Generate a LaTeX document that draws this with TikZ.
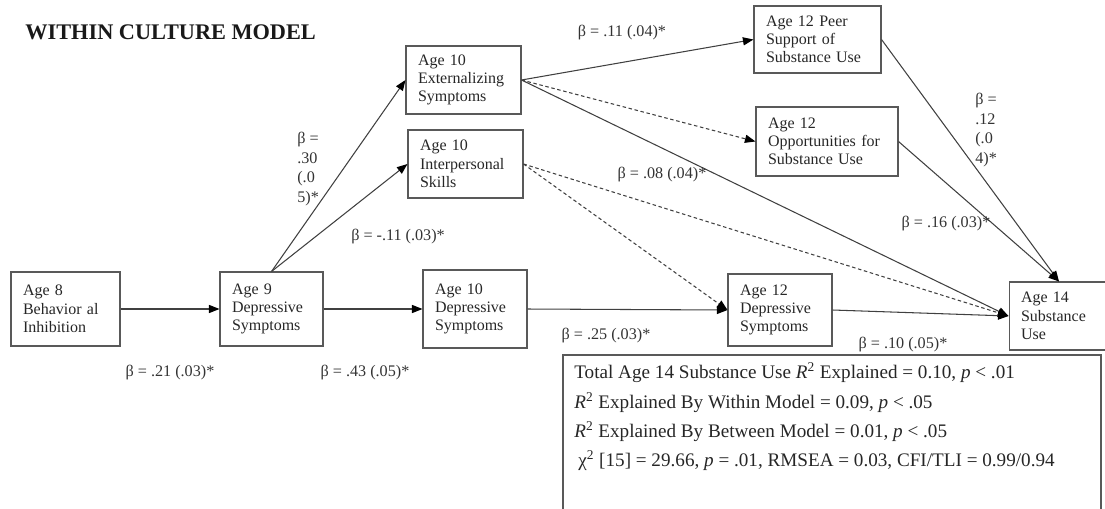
\documentclass[tikz,border=0pt]{standalone}
\usepackage{fontspec}
\setmainfont{Liberation Serif}
\usepackage{xcolor}
\definecolor{linegray}{rgb}{0.25,0.25,0.25}
\definecolor{boxgray}{rgb}{0.35,0.35,0.35}
\usepackage{tikz}
\usetikzlibrary{arrows.meta}

\begin{document}
\begin{tikzpicture}[x=0.02cm, y=-0.02cm,
    box/.style={draw=boxgray, line width=0.6pt, align=left, inner xsep=0.24cm, inner ysep=0pt, font=\fontsize{9.1}{10.4}\selectfont, text=black!85},
    link/.style={draw=linegray, line width=0.6pt, -{Triangle[length=6pt,width=4.6pt,color=black]}},
    dashlink/.style={link, dash pattern=on 2pt off 1.5pt},
    coef/.style={font=\fontsize{9.2}{11.3}\selectfont, text=black!80, inner sep=0pt}]
            \useasboundingbox (0,0) rectangle (1105,508);
            \clip (0,0) rectangle (1105,508);

            % Title
            \node[anchor=west, inner sep=0pt, font=\fontsize{12.7}{14}\selectfont\bfseries, text=black!90] (title) at (25,32) {WITHIN CULTURE MODEL};

            % Variables
            \node[box, minimum width=2.18cm, minimum height=1.48cm, text width=1.70cm] (age8) at (65.5,309) {Age 8\\Behavior al\\Inhibition};
            \node[box, minimum width=2.06cm, minimum height=1.48cm, text width=1.58cm] (age9) at (271.5,309) {Age 9\\Depressive\\Symptoms};
            \node[box, minimum width=2.08cm, minimum height=1.56cm, text width=1.60cm] (dep10) at (475,309) {Age 10\\Depressive\\Symptoms};
            \node[box, minimum width=2.30cm, minimum height=1.36cm, text width=1.82cm] (ext10) at (463.5,80) {Age 10\\Externalizing\\Symptoms};
            \node[box, minimum width=2.30cm, minimum height=1.36cm, text width=1.82cm] (inter10) at (465.5,164) {Age 10\\Interpersonal\\Skills};
            \node[box, minimum width=2.54cm, minimum height=1.34cm, text width=2.06cm] (peer12) at (817.5,39.5) {Age 12 Peer\\Support of\\Substance Use};
            \node[box, minimum width=2.84cm, minimum height=1.38cm, text width=2.36cm] (opp12) at (827,141.5) {Age 12\\Opportunities for\\Substance Use};
            \node[box, minimum width=2.08cm, minimum height=1.44cm, text width=1.60cm] (dep12) at (780,310) {Age 12\\Depressive\\Symptoms};
            \node[box, minimum width=2.60cm, minimum height=1.36cm, text width=2.12cm] (use14) at (1074,316) {Age 14\\Substance\\Use};

            % Paths
            \draw[link] (age8) -- (age9);
            \draw[link] (age9.north) -- (ext10.west);
            \draw[link] (age9.north) -- (inter10.west);
            \draw[link] (age9) -- (dep10);
            \draw[link] (ext10.east) -- (peer12.west);
            \draw[dashlink] (ext10.east) -- (opp12.west);
            \draw[link] (ext10.east) -- (use14.west);
            \draw[dashlink] (inter10.east) -- (dep12.west);
            \draw[dashlink] (inter10.east) -- (use14.west);
            \draw[link] (dep10.east) -- (dep12.west);
            \draw[link] (dep12.east) -- (use14.west);
            \draw[link] (peer12.east) -- ([xshift=-0.3cm]use14.north);
            \draw[link] (opp12.east) -- ([xshift=-0.3cm]use14.north);

            % Coefficients
            \node[coef] (b21) at (170,373) {β = .21 (.03)*};
            \node[coef] (b43) at (365,373) {β = .43 (.05)*};
            \node[coef] (b25) at (606,336) {β = .25 (.03)*};
            \node[coef] (b10) at (903,345) {β = .10 (.05)*};
            \node[coef] (b11n) at (398,237) {β = -.11 (.03)*};
            \node[coef] (b11) at (622,33) {β = .11 (.04)*};
            \node[coef] (b08) at (662,175) {β = .08 (.04)*};
            \node[coef] (b16) at (946,224) {β = .16 (.03)*};
            \node[coef, anchor=west, align=left] (b30) at (297,169) {β =\\.30\\(.0\\5)*};
            \node[coef, anchor=west, align=left] (b12) at (975,130) {β =\\.12\\(.0\\4)*};

            % Fit statistics
            \draw[draw=boxgray, line width=0.6pt] (563,355) rectangle (1101,540);
            \node[anchor=base west, inner sep=0pt, font=\fontsize{10.9}{13}\selectfont, text=black!85] (st1) at (574,378) {Total Age 14 Substance Use \textit{R}\textsuperscript{2} Explained = 0.10, \textit{p} < .01};
            \node[anchor=base west, inner sep=0pt, font=\fontsize{10.9}{13}\selectfont, text=black!85] (st2) at (574,408) {\textit{R}\textsuperscript{2} Explained By Within Model = 0.09, \textit{p} < .05};
            \node[anchor=base west, inner sep=0pt, font=\fontsize{10.9}{13}\selectfont, text=black!85] (st3) at (574,437) {\textit{R}\textsuperscript{2} Explained By Between Model = 0.01, \textit{p} < .05};
            \node[anchor=base west, inner sep=0pt, font=\fontsize{10.9}{13}\selectfont, text=black!85] (st4) at (578,466) {χ\textsuperscript{2} [15] = 29.66, \textit{p} = .01, RMSEA = 0.03, CFI/TLI = 0.99/0.94};
        \end{tikzpicture}
\end{document}
